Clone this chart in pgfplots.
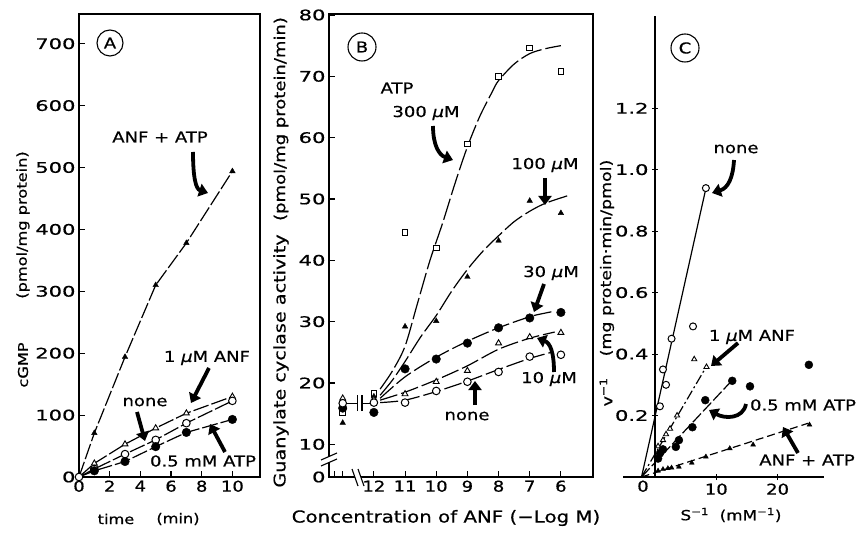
\documentclass[border=0pt]{standalone}
\usepackage{fontspec}
\setmainfont{DejaVu Sans}[FakeStretch=1.2, FakeBold=0.6]
\newfontfamily\tickfont{DejaVu Sans}[FakeStretch=1.45, FakeBold=0.6]
\usepackage{pgfplots}
\pgfplotsset{compat=1.18}
\usetikzlibrary{arrows.meta}

\pgfplotsset{
  panel/.style={scale only axis, anchor=south west, clip=false,
    axis line style={line width=1.3pt},
    every tick/.style={black, line width=1.1pt}, major tick length=6pt,
    tick align=inside, xtick pos=left, ytick pos=left,
    /pgf/number format/assume math mode=true,
    yticklabel style={font=\tickfont\fontsize{14.5}{16}\selectfont},
    xticklabel style={font=\fontsize{15}{17}\selectfont}},
  ln/.style={no marks, line width=1.2pt},
  fcirc/.style={only marks, mark=*, mark size=4.3pt, mark options={fill=black}},
  ocirc/.style={only marks, mark=*, mark size=3.8pt, mark options={fill=white, line width=1pt}},
  ftri/.style={only marks, mark=triangle*, mark size=3.2pt, mark options={fill=black}},
  otri/.style={only marks, mark=triangle*, mark size=3.4pt, mark options={fill=white, line width=0.9pt}},
  osq/.style={only marks, mark=square*, mark size=2.8pt, mark options={fill=white, line width=0.9pt}},
}
\tikzset{bigarrow/.style={line width=3.8pt, -{Triangle[length=9pt, width=13pt]}}}

\begin{document}
\begin{tikzpicture}
\useasboundingbox (0,0) rectangle (861pt,533pt);

% ---------- panel A ----------
\begin{axis}[panel, at={(79pt,56pt)}, width=181pt, height=463pt,
  xmin=0, xmax=11.8, ymin=0, ymax=748,
  xtick={0,2,...,10}, ytick={0,100,...,700}]
\addplot[ln, dash pattern=on 16pt off 3pt] coordinates {(0,0) (1,71) (3,194) (5,310) (7,378) (10,494)};
\addplot[ln, dash pattern=on 16pt off 3pt] coordinates {(0,0) (1,22) (3,53) (5,79) (7,103) (10,130)};
\addplot[ln, dash pattern=on 16pt off 3pt] coordinates {(0,0) (1,13) (3,37) (5,60) (7,87) (10,123)};
\addplot[ln, dash pattern=on 16pt off 3pt] coordinates {(0,0) (1,10) (3,25) (5,49) (7,72) (10,93)};
\addplot[ftri] coordinates {(1,71) (3,194) (5,310) (7,378) (10,494)};
\addplot[otri] coordinates {(0,3) (1,22) (3,53) (5,79) (7,103) (10,130)};
\addplot[ocirc] coordinates {(0,0) (1,13) (3,37) (5,60) (7,87) (10,123)};
\addplot[fcirc] coordinates {(1,10) (3,25) (5,49) (7,72) (10,93)};
\end{axis}

% ---------- panel B ----------
\begin{axis}[panel, at={(329pt,56pt)}, width=264pt, height=463pt,
  x dir=reverse, xmin=4.97, xmax=13.44, ymin=4.67, ymax=80.16,
  xtick={6,...,12}, ytick={10,20,...,80},
  extra y ticks={4.67}, extra y tick labels={0},
  extra x ticks={13,13.25}, extra x tick labels={}]
% fitted curves
\addplot[ln, smooth, dash pattern=on 22pt off 4pt] coordinates {(11.8,19) (11.4,22) (11,26) (10.6,33) (10.2,40) (9.8,46) (9.4,52.5) (9,58.5) (8.6,63.5) (8.2,67.5) (8,69.3) (7.5,72) (7,73.7) (6.5,74.5) (6,75)};
\addplot[ln, smooth, dash pattern=on 22pt off 4pt] coordinates {(11.8,18) (11.4,20.5) (11,23.5) (10.5,27.5) (10,31) (9.5,35) (9,38.5) (8.5,41.5) (8,44) (7.5,46.3) (7,48) (6.5,49.3) (5.8,50.5)};
\addplot[ln, smooth, dash pattern=on 18pt off 4pt] coordinates {(11.8,17.5) (11,21) (10,24.2) (9,26.8) (8,29) (7,30.8) (6.5,31.4) (6.2,31.7)};
\addplot[ln, smooth, dash pattern=on 18pt off 4pt] coordinates {(11.8,17.2) (11,18.5) (10,20.5) (9,22.8) (8,25.5) (7,27.3) (6.2,28.3)};
\addplot[ln, smooth, dash pattern=on 18pt off 4pt] coordinates {(11.8,16.8) (11,17.2) (10,18.6) (9,20.3) (8,22.2) (7,24) (6.3,25)};
% data
\addplot[osq] coordinates {(13,15.1) (12,18.3) (11,44.5) (10,42) (9,59) (8,70) (7,74.6) (6,70.8)};
\addplot[ftri] coordinates {(13,13.5) (12,17.8) (11,29.2) (10,30.1) (9,37.3) (8,43.2) (7,49.7) (6,47.7)};
\addplot[fcirc] coordinates {(13,15.9) (12,15.2) (11,22.3) (10,23.9) (9,26.5) (8,29) (7,30.6) (6,31.5)};
\addplot[otri] coordinates {(13,17.5) (12,17.3) (11,18.2) (10,20.2) (9,22) (8,26.5) (7,27.5) (6,28.2)};
\addplot[ocirc] coordinates {(13,16.7) (12,16.8) (11,16.8) (10,18.7) (9,20.2) (8,21.8) (7,24.3) (6,24.6)};
\draw[line width=1.2pt] (axis cs:12.88,16.7) -- (axis cs:12.52,16.7);
\draw[line width=1.2pt] (axis cs:12.52,15.4) -- (axis cs:12.52,18);
\draw[line width=1.2pt] (axis cs:12.38,15.4) -- (axis cs:12.38,18);
\draw[line width=1.2pt] (axis cs:12.38,16.7) -- (axis cs:12.12,16.7);
\end{axis}

% ---------- panel C: y axis line at x = 0 ----------
\begin{axis}[panel, at={(655pt,56pt)}, width=169pt, height=461pt,
  xmin=0, xmax=27.57, ymin=0, ymax=1.5,
  axis x line=none, axis y line=left, axis line style={-, line width=1.3pt},
  ytick={0.2,0.4,...,1.2},
  yticklabel style={/pgf/number format/.cd, fixed, fixed zerofill, precision=1}]
\end{axis}
% ---------- panel C: data and x axis ----------
\begin{axis}[panel, at={(623pt,56pt)}, width=201pt, height=461pt,
  xmin=-5.22, xmax=27.57, ymin=0, ymax=1.5,
  axis x line=bottom, axis y line=none, axis line style={-, line width=1.3pt},
  xtick={10,20}, ytick=\empty,
  extra x ticks={-1.96}, extra x tick labels={0},
  extra x tick style={major tick length=0pt}]
\addplot[ln] coordinates {(-2.2,0) (8.2,0.93)};
\addplot[ln, dash pattern=on 10pt off 3pt on 2pt off 3pt] coordinates {(-2.2,0) (8.4,0.36)};
\addplot[ln, dash pattern=on 12pt off 3pt] coordinates {(-2.2,0) (12.6,0.315)};
\addplot[ln, dash pattern=on 8pt off 4pt] coordinates {(-2.2,0) (25,0.175)};
\addplot[ocirc, mark size=3.5pt] coordinates {(0.8,0.23) (1.3,0.35) (1.8,0.30) (2.7,0.45) (6.2,0.49) (8.3,0.94)};
\addplot[otri, mark size=3pt] coordinates {(0.5,0.1) (1.3,0.12) (1.8,0.139) (2.45,0.157) (3.6,0.2) (6.4,0.383) (8.4,0.358)};
\addplot[fcirc, mark size=4pt] coordinates {(0.5,0.06) (0.8,0.077) (1.3,0.09) (3.4,0.098) (3.9,0.12) (6.1,0.162) (8.2,0.25) (12.6,0.313) (15.5,0.295) (25.1,0.365)};
\addplot[ftri, mark size=2.8pt] coordinates {(0.5,0.02) (1.3,0.025) (2.1,0.028) (2.7,0.03) (3.9,0.033) (6,0.046) (8.3,0.066) (12.2,0.093) (16,0.105) (25.2,0.17)};
\end{axis}

% ---------- annotations, in pixel coordinates ----------
\begin{scope}[x=1pt, y=-1pt, yshift=533pt]
\tikzset{every node/.style={inner sep=0pt, font=\fontsize{15}{17}\selectfont}}
% panel letters
\draw[line width=1.1pt] (110,43) circle[radius=13pt]; \node at (110,43) {A};
\draw[line width=1.1pt] (362,47) circle[radius=14pt]; \node at (362,47) {B};
\draw[line width=1.1pt] (685,48) circle[radius=14pt]; \node at (685,48) {C};
% axis breaks in B
\fill[white] (321,460) -- (337,453) -- (337,459) -- (321,466) -- cycle;
\draw[line width=1.1pt] (321,460) -- (337,453) (321,466) -- (337,459);
\fill[white] (352,469) -- (358,469) -- (364,486) -- (358,486) -- cycle;
\draw[line width=1.1pt] (352,469) -- (358,486) (358,469) -- (364,486);
% A labels
\node at (160,137) {ANF + ATP};
\node at (207,358) {1 {\itshape µ}M ANF};
\node at (145,402) {none};
\node at (203,461) {0.5 mM ATP};
\draw[bigarrow] (193,152) .. controls (193,178) and (196,189) .. (208,193);
\draw[bigarrow] (209,368) -- (191,403);
\draw[bigarrow] (137,412) -- (145,441);
\draw[bigarrow] (225,452) -- (210,424);
% B labels
\node at (397,88) {ATP};
\node at (426,113) {300 {\itshape µ}M};
\node at (545,165) {100 {\itshape µ}M};
\node at (551,273) {30 {\itshape µ}M};
\node at (549,379) {10 {\itshape µ}M};
\node at (467,416) {none};
\draw[bigarrow] (433,126) .. controls (433,145) and (439,155) .. (453,160);
\draw[bigarrow] (545,178) -- (545,205);
\draw[bigarrow] (544,284) -- (534,312);
\draw[bigarrow] (554,372) .. controls (554,352) and (550,343) .. (537,338);
\draw[bigarrow] (475,405) -- (475,381);
% C labels
\node at (736,149) {none};
\node at (752,337) {1 {\itshape µ}M ANF};
\node at (803,405) {0.5 mM ATP};
\node at (807,460) {ANF + ATP};
\draw[bigarrow] (734,160) .. controls (733,178) and (728,188) .. (712,193);
\draw[bigarrow] (738,343) -- (711,366);
\draw[bigarrow] (746,404) .. controls (743,419) and (725,419) .. (709,410);
\draw[bigarrow] (798,453) -- (783,427);
% axis labels
\node[rotate=90, font=\fontsize{13.5}{15}\selectfont] at (23,365) {cGMP};
\node[rotate=90, font=\fontsize{13.5}{15}\selectfont] at (23,225) {(pmol/mg protein)};
\node[font=\fontsize{13.5}{15}\selectfont] at (116,519) {time};
\node[font=\fontsize{13.5}{15}\selectfont] at (178,519) {(min)};
\node[rotate=90, font=\fontsize{16}{18}\selectfont] at (281,361) {Guanylate cyclase activity};
\node[rotate=90, font=\fontsize{15}{17}\selectfont] at (281,119) {(pmol/mg protein/min)};
\node[font=\fontsize{16.5}{18}\selectfont] at (446,518) {Concentration of ANF (−Log M)};
\node[rotate=90, font=\fontsize{14.5}{16}\selectfont] at (606,392) {v\textsuperscript{−1}};
\node[rotate=90, font=\fontsize{14.5}{16}\selectfont] at (607,258) {(mg protein·min/pmol)};
\node[font=\fontsize{14}{16}\selectfont] at (731,515) {S\textsuperscript{−1}\ \ (mM\textsuperscript{−1})};
\end{scope}
\end{tikzpicture}
\end{document}
